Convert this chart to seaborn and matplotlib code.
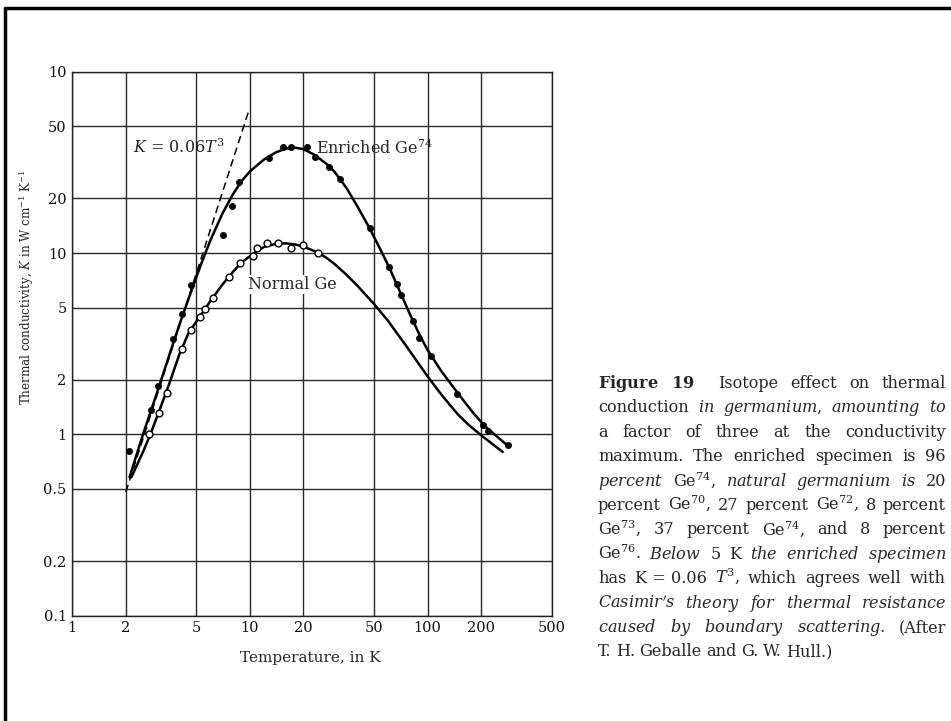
import matplotlib
matplotlib.use("Agg")
import matplotlib.pyplot as plt
import seaborn as sns
import pandas as pd
from matplotlib.lines import Line2D

# ---------------- data ----------------
enriched_T = [2.09, 2.77, 3.05, 3.68, 4.16, 4.67, 7.05, 7.92, 8.64, 12.75, 15.3, 17.0,
              20.9, 23.1, 28.0, 32.0, 47.5, 60.5, 67.4, 71.3, 83.0, 89.7, 105.0, 147.0,
              204.0, 219.0, 284.0]
enriched_K = [0.81, 1.36, 1.84, 3.35, 4.59, 6.7, 12.5, 18.1, 24.7, 33.6, 38.4, 38.4,
              38.4, 34.0, 29.7, 25.6, 13.8, 8.4, 6.75, 5.87, 4.2, 3.42, 2.72, 1.68,
              1.12, 1.05, 0.87]

normal_T = [2.72, 3.06, 3.4, 4.12, 4.63, 5.24, 5.6, 6.2, 7.58, 8.85, 10.35, 11.0,
            12.5, 14.35, 17.0, 20.0, 24.1]
normal_K = [1.01, 1.32, 1.70, 2.97, 3.75, 4.44, 4.9, 5.66, 7.35, 8.8, 9.66, 10.7,
            11.4, 11.3, 10.7, 11.1, 10.0]

enriched_fit_T = [2.1, 2.5, 3, 3.5, 4, 4.5, 5, 5.5, 6, 7, 8, 9, 10, 12, 14, 16, 18, 20,
                  23, 27, 30, 35, 40, 47, 55, 62, 70, 80, 90, 100, 120, 150, 180, 210,
                  250, 285]
enriched_fit_K = [0.58, 1.0, 1.7, 2.7, 4.0, 5.55, 7.4, 9.5, 11.8, 16.5, 21.0, 25.0,
                  28.2, 32.8, 35.9, 37.7, 38.1, 37.4, 34.9, 31.0, 28.0, 22.8, 18.3,
                  13.8, 10.2, 8.0, 6.1, 4.55, 3.55, 2.92, 2.22, 1.66, 1.32, 1.11,
                  0.96, 0.86]

normal_fit_T = [2.15, 2.5, 2.75, 3, 3.5, 4, 4.5, 5, 5.5, 6, 7, 8, 9, 10, 11, 12, 14, 16,
                18, 20, 24, 27, 30, 35, 40, 50, 60, 75, 85, 100, 120, 147, 170, 200,
                230, 265]
normal_fit_K = [0.58, 0.8, 1.0, 1.25, 1.88, 2.75, 3.6, 4.2, 4.8, 5.45, 6.7, 7.85,
                8.9, 9.6, 10.3, 10.8, 11.25, 11.3, 11.15, 10.85, 10.09, 9.4, 8.69,
                7.58, 6.65, 5.23, 4.22, 3.12, 2.62, 2.09, 1.65, 1.30, 1.13, 0.99,
                0.89, 0.80]

law_T = [2.0, 9.8]      # K = 0.06 T^3 guide line
law_K = [0.48, 60.0]

x_ticks = [1, 2, 5, 10, 20, 50, 100, 200, 500]
x_tick_labels = ["1", "2", "5", "10", "20", "50", "100", "200", "500"]
y_ticks = [0.1, 0.2, 0.5, 1, 2, 5, 10, 20, 50, 100]
y_tick_labels = ["0.1", "0.2", "0.5", "1", "2", "5", "10", "20", "50", "10"]

caption_lines = [
    [r"$\mathbf{Figure}$", r"$\mathbf{19}$", "Isotope", "effect", "on", "thermal"],
    ["conduction", r"$\mathit{in}$", r"$\mathit{germanium,}$", r"$\mathit{amounting}$", r"$\mathit{to}$"],
    ["a", "factor", "of", "three", "at", "the", "conductivity"],
    ["maximum.", "The", "enriched", "specimen", "is", "96"],
    [r"$\mathit{percent}$", "Ge$^{74}$,", r"$\mathit{natural}$", r"$\mathit{germanium}$", r"$\mathit{is}$", "20"],
    ["percent", "Ge$^{70}$,", "27", "percent", "Ge$^{72}$,", "8", "percent"],
    ["Ge$^{73}$,", "37", "percent", "Ge$^{74}$,", "and", "8", "percent"],
    ["Ge$^{76}$.", r"$\mathit{Below}$", r"$\mathit{5}$", "K", r"$\mathit{the}$", r"$\mathit{enriched}$", r"$\mathit{specimen}$"],
    ["has", "K = 0.06", r"$T^{3}$,", "which", "agrees", "well", "with"],
    [r"$\mathit{Casimir's}$", r"$\mathit{theory}$", r"$\mathit{for}$", r"$\mathit{thermal}$", r"$\mathit{resistance}$"],
    [r"$\mathit{caused}$", r"$\mathit{by}$", r"$\mathit{boundary}$", r"$\mathit{scattering.}$", "(After"],
    ["T.", "H.", "Geballe", "and", "G.", "W.", "Hull.)"],
]

# ---------------- style ----------------
sns.set_style("white")
plt.rcParams["font.family"] = ["DejaVu Serif"]
plt.rcParams["mathtext.fontset"] = "dejavuserif"

W, H = 951, 721
fig = plt.figure(figsize=(W / 100, H / 100), dpi=100)
fig.patch.set_facecolor("white")

ax_l, ax_r, ax_t, ax_b = 72.3, 551.7, 71.7, 615.7
ax = fig.add_axes([ax_l / W, 1 - ax_b / H, (ax_r - ax_l) / W, (ax_b - ax_t) / H])

ax.set_xscale("log")
ax.set_yscale("log")

df_enr_fit = pd.DataFrame({"T": enriched_fit_T, "K": enriched_fit_K})
df_nor_fit = pd.DataFrame({"T": normal_fit_T, "K": normal_fit_K})
df_law = pd.DataFrame({"T": law_T, "K": law_K})
df_enr = pd.DataFrame({"T": enriched_T, "K": enriched_K})
df_nor = pd.DataFrame({"T": normal_T, "K": normal_K})

sns.lineplot(data=df_law, x="T", y="K", ax=ax, color="black", lw=1.1,
             linestyle=(0, (5, 3)), sort=False, estimator=None, zorder=3)
sns.lineplot(data=df_enr_fit, x="T", y="K", ax=ax, color="black", lw=1.8,
             sort=False, estimator=None, zorder=4)
sns.lineplot(data=df_nor_fit, x="T", y="K", ax=ax, color="black", lw=1.8,
             sort=False, estimator=None, zorder=4)
sns.scatterplot(data=df_enr, x="T", y="K", ax=ax, color="black", s=20,
                edgecolor="black", linewidth=0.5, zorder=5)
sns.scatterplot(data=df_nor, x="T", y="K", ax=ax, facecolor="white", s=24,
                edgecolor="black", linewidth=1.0, zorder=5)

ax.set_xlim(1, 500)
ax.set_ylim(0.1, 100)
ax.set_xticks(x_ticks)
ax.set_xticklabels(x_tick_labels)
ax.set_yticks(y_ticks)
ax.set_yticklabels(y_tick_labels)
ax.minorticks_off()
ax.tick_params(axis="both", which="both", length=0, labelsize=10.5, pad=4,
               labelcolor="#111111")
ax.grid(True, which="major", color="#2a2a2a", lw=1.0)
ax.set_axisbelow(True)
for s in ax.spines.values():
    s.set_color("#222222")
    s.set_linewidth(1.0)
ax.set_xlabel("")
ax.set_ylabel("")

ax.text(2.2, 38, r"$K$ = 0.06$T^{3}$", fontsize=11.5, va="center", ha="left", zorder=6)
ax.text(23.7, 38, "Enriched Ge$^{74}$", fontsize=11.5, va="center", ha="left", zorder=6)
ax.text(9.7, 6.7, "Normal Ge", fontsize=11.5, va="center", ha="left", zorder=6,
        bbox=dict(facecolor="white", edgecolor="none", pad=0.5))

fig.text(310 / W, 1 - 658 / H, "Temperature, in K", fontsize=11, ha="center", va="center")
fig.text(27 / W, 1 - 287 / H, r"Thermal conductivity, $K$ in W cm$^{-1}$ K$^{-1}$",
         fontsize=8.6, rotation=90, ha="center", va="center")

# page frame
fig.add_artist(Line2D([4.5 / W, 1], [1 - 7.5 / H, 1 - 7.5 / H], transform=fig.transFigure,
                      color="black", lw=2.5))
fig.add_artist(Line2D([4.5 / W, 4.5 / W], [0, 1 - 7.5 / H], transform=fig.transFigure,
                      color="black", lw=2.5))

# caption, justified
fig.canvas.draw()
renderer = fig.canvas.get_renderer()
x0, x1 = 598 / W, 946 / W
fs = 11.6
for i, words in enumerate(caption_lines):
    yb = 1 - (388 + 24.4 * i) / H
    texts = [fig.text(0, yb, w, fontsize=fs, ha="left", va="baseline") for w in words]
    widths = [t.get_window_extent(renderer).width / W for t in texts]
    weights = [1.0] * (len(words) - 1)
    if i == 0:
        weights[1] = 2.0
    if i == len(caption_lines) - 1:
        gap_unit = 4.5 / W
    else:
        gap_unit = max((x1 - x0 - sum(widths)) / sum(weights), 2.5 / W)
    x = x0
    for j, (t, w) in enumerate(zip(texts, widths)):
        t.set_x(x)
        if j < len(weights):
            x += w + gap_unit * weights[j]

fig.savefig("out.png", dpi=100, facecolor="white")
